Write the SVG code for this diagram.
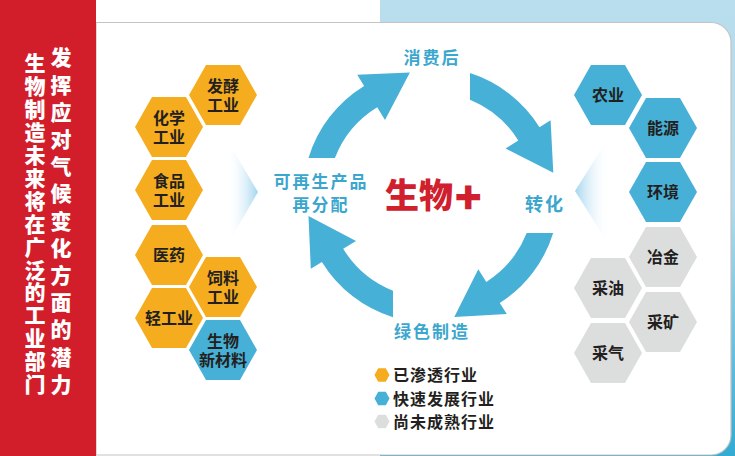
<svg xmlns="http://www.w3.org/2000/svg" width="735" height="456" viewBox="0 0 735 456">
<defs>
<style>
.cjk{font-family:"Noto Sans CJK SC","Noto Sans",sans-serif;font-weight:700}
.side{fill:#ffffff;font-size:21px;font-weight:900;writing-mode:vertical-rl}
.hx{fill:#231f20;font-size:16px;text-anchor:middle}
.lbl{fill:#3ba6ce;font-size:17px;text-anchor:middle;letter-spacing:2px}
.arrow{fill:#47b0d6}
.leg{fill:#231f20;font-size:16px;letter-spacing:1px}
.or{fill:#f5ad1f}
.bl{fill:#47b0d6}
.gr{fill:#dcdddd}
</style>
<linearGradient id="bgGrad" x1="0" y1="0" x2="0" y2="1">
<stop offset="0" stop-color="#b9deee"/>
<stop offset="0.45" stop-color="#b0dbec"/>
<stop offset="1" stop-color="#33abd2"/>
</linearGradient>
<linearGradient id="chevL" x1="227" y1="0" x2="258" y2="0" gradientUnits="userSpaceOnUse">
<stop offset="0" stop-color="#ffffff" stop-opacity="0"/>
<stop offset="1" stop-color="#a3d5ef"/>
</linearGradient>
<linearGradient id="chevR" x1="575" y1="0" x2="609" y2="0" gradientUnits="userSpaceOnUse">
<stop offset="0" stop-color="#a3d5ef"/>
<stop offset="1" stop-color="#ffffff" stop-opacity="0"/>
</linearGradient>
<polygon id="hex" points="-34,0 -17,-30 17,-30 34,0 17,30 -17,30" stroke-linejoin="round"/>
<polygon id="hexs" points="-7.5,0 -3.8,-6.8 3.8,-6.8 7.5,0 3.8,6.8 -3.8,6.8"/>
</defs>

<g id="background">
<rect x="0" y="0" width="735" height="456" fill="#ffffff"/>
<rect x="380" y="0" width="355" height="456" fill="url(#bgGrad)"/>
<path d="M96,22.5 H711 A20,20 0 0 1 731,42.5 V435 A20,20 0 0 1 711,455 H96 Z" fill="#ffffff" stroke="#c4c4c4" stroke-width="1.2"/>
<rect x="0" y="0" width="96" height="456" fill="#d21e2b"/>
</g>

<g id="side-title" class="cjk">
<text class="side" x="35" y="53" style="letter-spacing:1.9px">生物制造未来将在广泛的工业部门</text>
<text class="side" x="61" y="47" style="letter-spacing:6.2px">发挥应对气候变化方面的潜力</text>
</g>

<g id="chevrons">
<polygon points="227,140 258,192 227,245" fill="url(#chevL)"/>
<polygon points="609,137 575,191 609,245" fill="url(#chevR)"/>
</g>

<g id="connectors">
<path class="arrow" d="M308.5,158 A128,128 0 0 1 364.1,85.9 L357.3,74.8 L409.9,72.5 L385,120 L377.2,107.2 A103,103 0 0 0 334.9,158 Z"/>
<path class="arrow" d="M470,73.1 A128,128 0 0 1 539.5,127.2 L550.6,120.3 L553.3,172.8 L505.6,148.4 L518.3,140.4 A103,103 0 0 0 470,99.7 Z"/>
<path class="arrow" d="M553.2,233 A128,128 0 0 1 499.8,303 L506.8,313.9 L454.3,317.1 L478.3,269.2 L486.3,281.9 A103,103 0 0 0 526.7,233 Z"/>
<path class="arrow" d="M393,317.2 A128,128 0 0 1 321.9,261.9 L310.8,268.7 L308.5,216.1 L356,241 L343.2,248.8 A103,103 0 0 0 393,290.7 Z"/>
</g>

<g id="cycle-labels" class="cjk">
<g id="label-xiaofeihou"><text class="lbl" x="432" y="63.5">消费后</text></g>
<g id="label-kezaisheng"><text class="lbl" x="321" y="188"><tspan x="321" y="188">可再生产品</tspan><tspan x="321" y="211">再分配</tspan></text></g>
<g id="label-zhuanhua"><text class="lbl" x="545" y="211" style="font-size:18px">转化</text></g>
<g id="label-lvse"><text class="lbl" x="432" y="338">绿色制造</text></g>
<g id="center-title"><text x="385" y="208" style="fill:#d0202e;font-size:34px;font-weight:900">生物<tspan style="font-family:'DejaVu Sans',sans-serif;font-weight:700;font-size:34px;stroke:#d0202e;stroke-width:2.4px" dx="1">+</tspan></text></g>
</g>

<g id="hex-fajiao" class="cjk"><use href="#hex" x="223" y="95" class="or"/><text class="hx"><tspan x="223" y="91.5">发酵</tspan><tspan x="223" y="110.5">工业</tspan></text></g>
<g id="hex-huaxue" class="cjk"><use href="#hex" x="169" y="127" class="or"/><text class="hx"><tspan x="169" y="123.5">化学</tspan><tspan x="169" y="142.5">工业</tspan></text></g>
<g id="hex-shipin" class="cjk"><use href="#hex" x="169" y="190" class="or"/><text class="hx"><tspan x="169" y="186.5">食品</tspan><tspan x="169" y="205.5">工业</tspan></text></g>
<g id="hex-yiyao" class="cjk"><use href="#hex" x="169" y="255" class="or"/><text class="hx" x="169" y="261">医药</text></g>
<g id="hex-siliao" class="cjk"><use href="#hex" x="223" y="287" class="or"/><text class="hx"><tspan x="223" y="283.5">饲料</tspan><tspan x="223" y="302.5">工业</tspan></text></g>
<g id="hex-qinggongye" class="cjk"><use href="#hex" x="169" y="318" class="or"/><text class="hx" x="169" y="324">轻工业</text></g>
<g id="hex-xincailiao" class="cjk"><use href="#hex" x="223" y="350" class="bl"/><text class="hx"><tspan x="223" y="346.5">生物</tspan><tspan x="223" y="365.5">新材料</tspan></text></g>

<g id="hex-nongye" class="cjk"><use href="#hex" x="608" y="95" class="bl"/><text class="hx" x="608" y="101">农业</text></g>
<g id="hex-nengyuan" class="cjk"><use href="#hex" x="663" y="128" class="bl"/><text class="hx" x="663" y="134">能源</text></g>
<g id="hex-huanjing" class="cjk"><use href="#hex" x="663" y="192" class="bl"/><text class="hx" x="663" y="198">环境</text></g>
<g id="hex-yejin" class="cjk"><use href="#hex" x="663" y="257" class="gr"/><text class="hx" x="663" y="263">冶金</text></g>
<g id="hex-caiyou" class="cjk"><use href="#hex" x="608" y="288" class="gr"/><text class="hx" x="608" y="294">采油</text></g>
<g id="hex-caikuang" class="cjk"><use href="#hex" x="663" y="322" class="gr"/><text class="hx" x="663" y="328">采矿</text></g>
<g id="hex-caiqi" class="cjk"><use href="#hex" x="608" y="353" class="gr"/><text class="hx" x="608" y="359">采气</text></g>

<g id="legend" class="cjk">
<use href="#hexs" x="382" y="375" class="or"/><text class="leg" x="393" y="381">已渗透行业</text>
<use href="#hexs" x="382" y="398.5" class="bl"/><text class="leg" x="393" y="404.5">快速发展行业</text>
<use href="#hexs" x="382" y="421.5" class="gr"/><text class="leg" x="393" y="427.5">尚未成熟行业</text>
</g>
</svg>
